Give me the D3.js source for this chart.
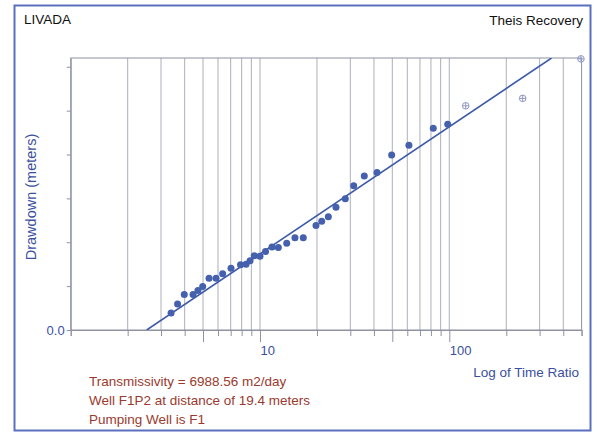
<!DOCTYPE html>
<html>
<head>
<meta charset="utf-8">
<script src="https://cdn.jsdelivr.net/npm/d3@7/dist/d3.min.js"></script>
<style>
  html, body { margin: 0; padding: 0; background: #fff; }
  svg { display: block; font-family: Arial, "Liberation Sans", sans-serif; }
</style>
</head>
<body>
<svg id="chart" width="601" height="434"></svg>
<script>
// Recovery test data: time ratio t/t' and residual drawdown (m)
const timeRatio = [3.39, 3.67, 3.98, 4.43, 4.70, 4.98, 5.38, 5.86, 6.35, 7.03,
  7.89, 8.44, 8.86, 9.33, 10.0, 10.7, 11.57, 12.5, 13.84, 15.3,
  16.93, 19.76, 21.18, 22.96, 25.2, 28.22, 31.26, 35.56, 41.5, 49.6,
  61.2, 82.3, 98.1];
const drawdown = [0.039, 0.059, 0.081, 0.081, 0.090, 0.099, 0.118, 0.118, 0.128, 0.141,
  0.149, 0.150, 0.158, 0.169, 0.168, 0.179, 0.189, 0.188, 0.198, 0.210,
  0.210, 0.238, 0.248, 0.258, 0.280, 0.299, 0.329, 0.351, 0.359, 0.399,
  0.421, 0.460, 0.469];

// Points excluded from the fit
const excludedRatio = [122.1, 244.2, 496];
const excludedDrawdown = [0.511, 0.528, 0.618];

// Straight-line fit (Theis recovery), two ends in data units
const fitRatio = [2.52, 347];
const fitDrawdown = [0.0, 0.62];

const xDomain = [1, 500];
const yDomain = [0, 0.62];
const yTicks = [0, 0.1, 0.2, 0.3, 0.4, 0.5, 0.6];
const xLabelTicks = [10, 100];
const xLongTicks = [5, 10, 50, 100];

const titleLeft = "LIVADA";
const titleRight = "Theis Recovery";
const yTitle = "Drawdown (meters)";
const xTitle = "Log of Time Ratio";
const notes = ["Transmissivity = 6988.56 m2/day",
               "Well F1P2 at distance of 19.4 meters",
               "Pumping Well is F1"];

const svg = d3.select("#chart");
const plot = { left: 70.7, right: 581.6, top: 58, bottom: 330 };

const x = d3.scaleLog().domain(xDomain).range([plot.left, plot.right]);
const y = d3.scaleLinear().domain(yDomain).range([plot.bottom, plot.top]);

const blue = "#4560ad";
const textBlue = "#3a50a0";
const gridCol = "#adb0bb";
const frameCol = "#8e92a3";

// outer frame
svg.append("rect")
  .attr("x", 14.5).attr("y", 5.5).attr("width", 576).attr("height", 425)
  .attr("fill", "#fff").attr("stroke", "#5b6fbf").attr("stroke-width", 2);

// titles
svg.append("text").attr("x", 24).attr("y", 24)
  .attr("font-size", 13.5).attr("fill", "#111").text(titleLeft);
svg.append("text").attr("x", 583).attr("y", 25).attr("text-anchor", "end")
  .attr("font-size", 13.5).attr("fill", "#111").text(titleRight);

// vertical grid lines at every log subdivision
const gridVals = [];
[1, 10, 100].forEach(d => { for (let k = 2; k <= 9; k++) { const v = d * k; if (v < 500) gridVals.push(v); } });
gridVals.push(10, 100);
svg.append("g").selectAll("line").data(gridVals).join("line")
  .attr("x1", d => x(d)).attr("x2", d => x(d))
  .attr("y1", plot.top).attr("y2", plot.bottom)
  .attr("stroke", gridCol).attr("stroke-width", 1);

// x axis ticks and labels
const xAxis = d3.axisBottom(x)
  .tickValues(gridVals.concat([1, 500]))
  .tickSizeOuter(0)
  .tickSize(6)
  .tickFormat(d => xLabelTicks.includes(d) ? String(d) : "");
const gx = svg.append("g").attr("transform", `translate(0,${plot.bottom})`).call(xAxis);
gx.select(".domain").attr("stroke", frameCol);
gx.selectAll(".tick line")
  .attr("stroke", frameCol)
  .attr("y2", d => xLongTicks.includes(d) ? 12 : 6);
gx.selectAll(".tick text")
  .attr("font-size", 13).attr("fill", textBlue)
  .attr("font-family", "Arial, 'Liberation Sans', sans-serif")
  .attr("text-anchor", "start").attr("dx", 0).attr("y", 16).attr("dy", "0.71em");

// y axis ticks, only the origin labelled
const yAxis = d3.axisLeft(y).tickValues(yTicks).tickSize(4).tickSizeOuter(0)
  .tickFormat(d => d === 0 ? d3.format(".1f")(d) : "");
const gy = svg.append("g").attr("transform", `translate(${plot.left},0)`).call(yAxis);
gy.select(".domain").attr("stroke", frameCol);
gy.selectAll(".tick line").attr("stroke", frameCol);
gy.selectAll(".tick text")
  .attr("font-size", 13).attr("fill", textBlue)
  .attr("font-family", "Arial, 'Liberation Sans', sans-serif")
  .attr("x", -6);

// plot frame
svg.append("rect")
  .attr("x", plot.left).attr("y", plot.top)
  .attr("width", plot.right - plot.left).attr("height", plot.bottom - plot.top)
  .attr("fill", "none").attr("stroke", frameCol).attr("stroke-width", 1);

// fitted line, clipped to the plot
svg.append("clipPath").attr("id", "plotClip").append("rect")
  .attr("x", plot.left).attr("y", plot.top)
  .attr("width", plot.right - plot.left).attr("height", plot.bottom - plot.top);
const fit = fitRatio.map((t, i) => [t, fitDrawdown[i]]);
svg.append("path")
  .datum(fit)
  .attr("clip-path", "url(#plotClip)")
  .attr("d", d3.line().x(d => x(d[0])).y(d => y(d[1])))
  .attr("fill", "none").attr("stroke", "#3e5ba9").attr("stroke-width", 1.6);

// observed points
const pts = timeRatio.map((t, i) => ({ t, s: drawdown[i] }));
svg.append("g").selectAll("circle").data(pts).join("circle")
  .attr("cx", d => x(d.t)).attr("cy", d => y(d.s)).attr("r", 3.5)
  .attr("fill", blue);

// excluded points: hollow circle with cross
const ex = excludedRatio.map((t, i) => ({ t, s: excludedDrawdown[i] }));
const exG = svg.append("g").selectAll("g").data(ex).join("g")
  .attr("transform", d => `translate(${x(d.t)},${y(d.s)})`)
  .attr("stroke", "#8f98c4").attr("stroke-width", 1).attr("fill", "none");
exG.append("circle").attr("r", 3.3);
exG.append("line").attr("x1", -3.3).attr("x2", 3.3);
exG.append("line").attr("y1", -3.3).attr("y2", 3.3);

// axis titles
svg.append("text")
  .attr("transform", `translate(36,${(plot.top + plot.bottom) / 2 + 3}) rotate(-90)`)
  .attr("text-anchor", "middle").attr("font-size", 14.5).attr("fill", textBlue)
  .text(yTitle);
svg.append("text").attr("x", 579).attr("y", 377).attr("text-anchor", "end")
  .attr("font-size", 13.5).attr("fill", textBlue).text(xTitle);

// notes
svg.append("g").selectAll("text").data(notes).join("text")
  .attr("x", 89).attr("y", (d, i) => 386 + i * 19)
  .attr("font-size", 13.5).attr("fill", "#9a3a2e").text(d => d);
</script>
</body>
</html>
